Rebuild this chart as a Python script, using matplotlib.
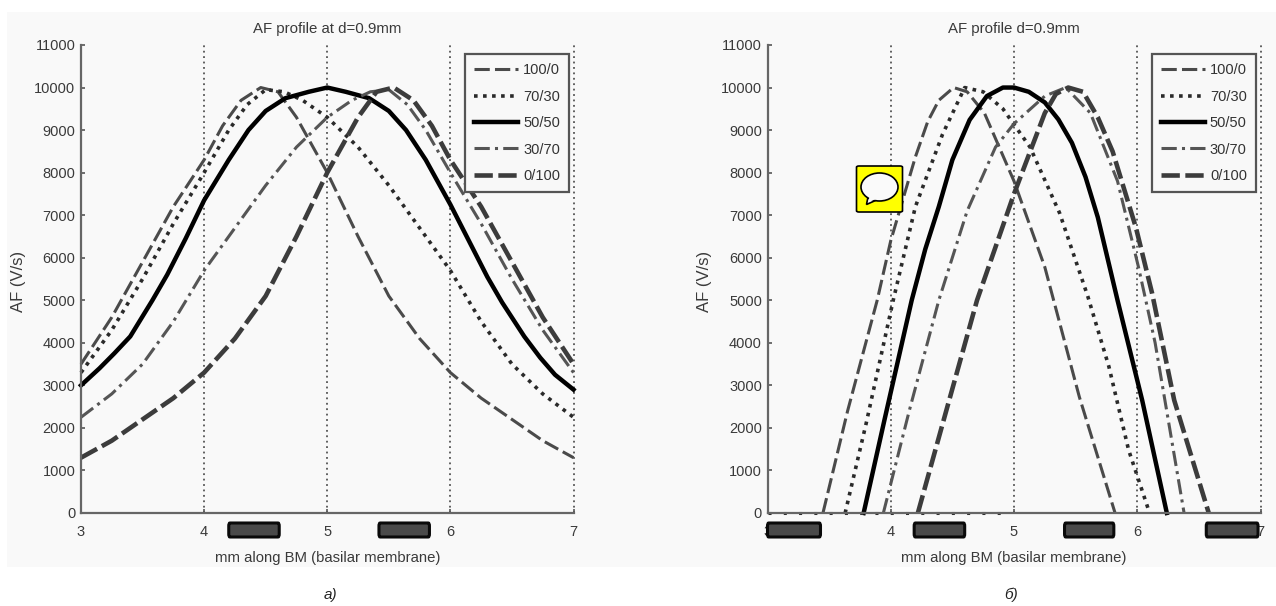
import matplotlib
matplotlib.use("Agg")
import matplotlib.pyplot as plt
from matplotlib.patches import FancyBboxPatch, Rectangle, Ellipse, Polygon
from matplotlib.transforms import blended_transform_factory

plt.rcParams['font.family'] = ['Liberation Sans', 'DejaVu Sans']

W, H = 1276, 606

labels = ["100/0", "70/30", "50/50", "30/70", "0/100"]
xticks = [3, 4, 5, 6, 7]
yticks = list(range(0, 12000, 1000))

# panel a
a_x_100 = [3, 3.25, 3.5, 3.75, 4, 4.15, 4.3, 4.46, 4.6, 4.75, 5, 5.25, 5.5, 5.75, 6, 6.25, 6.5, 6.75, 7]
a_y_100 = [3500, 4600, 5900, 7200, 8300, 9100, 9700, 10000, 9900, 9300, 8000, 6500, 5100, 4100, 3300, 2700, 2200, 1700, 1300]
a_x_70 = [3, 3.25, 3.5, 3.75, 4, 4.2, 4.35, 4.5, 4.65, 4.8, 5, 5.25, 5.5, 5.75, 6, 6.25, 6.5, 6.75, 7]
a_y_70 = [3300, 4300, 5500, 6800, 8000, 9000, 9600, 9950, 9900, 9700, 9300, 8600, 7700, 6700, 5700, 4500, 3500, 2800, 2250]
a_x_50 = [3, 3.15, 3.27, 3.4, 3.58, 3.7, 3.85, 4, 4.2, 4.36, 4.5, 4.66, 4.85, 5, 5.15, 5.34, 5.5, 5.64, 5.8, 6, 6.15, 6.3, 6.42, 6.6, 6.73, 6.85, 7]
a_y_50 = [3000, 3400, 3750, 4150, 5000, 5600, 6450, 7350, 8300, 9000, 9450, 9750, 9900, 10000, 9900, 9750, 9450, 9000, 8300, 7250, 6400, 5550, 4950, 4150, 3650, 3250, 2900]
a_x_30 = [3, 3.25, 3.5, 3.75, 4, 4.25, 4.5, 4.75, 5, 5.2, 5.35, 5.5, 5.65, 5.8, 6, 6.25, 6.5, 6.75, 7]
a_y_30 = [2250, 2800, 3500, 4500, 5700, 6700, 7700, 8600, 9300, 9700, 9900, 9950, 9600, 9000, 8000, 6800, 5500, 4300, 3300]
a_x_0 = [3, 3.25, 3.5, 3.75, 4, 4.25, 4.5, 4.75, 5, 5.25, 5.4, 5.54, 5.7, 5.85, 6, 6.25, 6.5, 6.75, 7]
a_y_0 = [1300, 1700, 2200, 2700, 3300, 4100, 5100, 6500, 8000, 9300, 9900, 10000, 9700, 9100, 8300, 7200, 5900, 4600, 3500]

# panel b
b_x_100 = [3.45, 3.65, 3.89, 4, 4.2, 4.3, 4.39, 4.51, 4.62, 4.76, 5, 5.25, 5.53, 5.82]
b_y_100 = [0, 2400, 5000, 6400, 8370, 9200, 9700, 10000, 9900, 9400, 7800, 5780, 2730, 0]
b_x_70 = [3.63, 3.8, 4.02, 4.2, 4.42, 4.6, 4.75, 4.91, 5.13, 5.37, 5.6, 5.77, 5.93, 6.1]
b_y_70 = [0, 2100, 5000, 7200, 8900, 10000, 9900, 9500, 8600, 7050, 5080, 3440, 1480, 0]
b_x_50 = [3.78, 3.95, 4.17, 4.28, 4.39, 4.5, 4.64, 4.78, 4.91, 5, 5.12, 5.25, 5.36, 5.47, 5.58, 5.68, 5.84, 6.04, 6.24]
b_y_50 = [0, 2200, 5000, 6200, 7200, 8300, 9240, 9800, 10000, 10000, 9900, 9650, 9250, 8700, 7900, 6950, 5000, 2650, 0]
b_x_30 = [3.94, 4.15, 4.39, 4.62, 4.85, 5, 5.25, 5.42, 5.62, 5.84, 6.01, 6.145, 6.38]
b_y_30 = [0, 2400, 5000, 7100, 8600, 9150, 9800, 10000, 9400, 7800, 5780, 4000, 0]
b_x_0 = [4.22, 4.45, 4.7, 5, 5.25, 5.34, 5.44, 5.56, 5.68, 5.8, 5.99, 6.12, 6.3, 6.58]
b_y_0 = [0, 2400, 5000, 7500, 9400, 9850, 10000, 9900, 9300, 8500, 6700, 5170, 2650, 0]
# dots lying on the axis in panel b
b_x_floor = [3, 4.9]
b_y_floor = [0, 0]

a_spans = [(4.2, 4.61), (5.42, 5.83)]
b_spans = [(3.0, 3.43), (4.19, 4.6), (5.41, 5.81), (6.56, 6.98)]

styles = [
    dict(color='#4a4a4a', lw=2.2, ls=(0, (5, 1.7))),
    dict(color='#2a2a2a', lw=2.6, ls=(0, (1, 1.5))),
    dict(color='#000000', lw=3.2, ls='-'),
    dict(color='#555555', lw=2.2, ls=(0, (5, 1.7, 1, 1.7))),
    dict(color='#3c3c3c', lw=3.3, ls=(0, (4, 1.2))),
]


def draw_panel(rect, series, spans, title, caption, caption_x):
    ax = fig.add_axes([rect[0] / W, 1 - rect[3] / H, (rect[2] - rect[0]) / W, (rect[3] - rect[1]) / H])
    ax.patch.set_alpha(0)
    for (xs, ys), name, st in zip(series, labels, styles):
        ax.plot(xs, ys, label=name, clip_on=False, **st)
    ax.set_xlim(3, 7)
    ax.set_ylim(0, 11000)
    ax.set_xticks(xticks)
    ax.set_yticks(yticks)
    ax.grid(True, axis='x', color='#555555', ls=(0, (1, 2)), lw=1.3, clip_on=False)
    ax.tick_params(direction='in', length=3, width=1.2, color='#555555', labelcolor='#3a3a3a', labelsize=10.5, pad=4)
    ax.tick_params(axis='x', pad=9)
    for s in ['top', 'right']:
        ax.spines[s].set_visible(False)
    for s in ['left', 'bottom']:
        ax.spines[s].set_color('#666666')
        ax.spines[s].set_linewidth(1.6)
    ax.set_title(title, fontsize=10.8, color='#3a3a3a', pad=9)
    ax.set_xlabel("mm along BM (basilar membrane)", fontsize=10.7, color='#3a3a3a', labelpad=8)
    ax.set_ylabel("AF (V/s)", fontsize=12, color='#3a3a3a')
    ax.yaxis.set_label_coords(-0.112, 0.494)
    leg = ax.legend(loc='upper left', bbox_to_anchor=(0.779, 0.981), borderaxespad=0, fontsize=10.5,
                    frameon=True, fancybox=False, framealpha=1, facecolor='#f8f8f8', edgecolor='#555555',
                    handlelength=3.0, handletextpad=0.35, labelspacing=0.85, borderpad=0.65)
    leg.get_frame().set_linewidth(1.6)
    for t in leg.get_texts():
        t.set_color('#333333')
    # redaction bars under the axis
    tr = blended_transform_factory(ax.transData, fig.transFigure)
    for x0, x1 in spans:
        ax.add_patch(FancyBboxPatch((x0, 1 - 537 / H), x1 - x0, 14 / H, transform=tr,
                                    boxstyle="round,pad=0,rounding_size=0.01", mutation_aspect=0.5,
                                    fc='#4a4a4a', ec='#0a0a0a', lw=2.2, clip_on=False, zorder=6))
    fig.text(caption_x / W, 1 - 595 / H, caption, fontsize=11, style='italic', color='#222222',
             ha='center', va='center')
    return ax


fig = plt.figure(figsize=(W / 100, H / 100), dpi=100, facecolor='white')
# washed grey scan background
fig.add_artist(Rectangle((7 / W, 1 - 567 / H), (W - 7) / W, 555 / H, transform=fig.transFigure,
                         fc='#f9f9f9', ec='none', zorder=-5))

draw_panel((81, 45, 573.5, 513),
           [(a_x_100, a_y_100), (a_x_70, a_y_70), (a_x_50, a_y_50), (a_x_30, a_y_30), (a_x_0, a_y_0)],
           a_spans, "AF profile at d=0.9mm", "а)", 330)
ax_b = draw_panel((767.5, 45, 1260.5, 513),
                  [(b_x_100, b_y_100), (b_x_70, b_y_70), (b_x_50, b_y_50), (b_x_30, b_y_30), (b_x_0, b_y_0)],
                  b_spans, "AF profile d=0.9mm", "б)", 1011)
ax_b.plot(b_x_floor, b_y_floor, color='#2a2a2a', lw=2.2, ls=(0, (1, 4)), clip_on=False)

# yellow comment icon
fig.add_artist(FancyBboxPatch((856.5 / W, 1 - 212 / H), 46 / W, 46 / H, transform=fig.transFigure,
                              boxstyle="round,pad=0,rounding_size=0.002", fc='#ffff00', ec='black', lw=1.2, zorder=10))
fig.add_artist(Polygon([(869 / W, 1 - 192 / H), (866.5 / W, 1 - 204.5 / H), (881 / W, 1 - 198 / H)],
                       transform=fig.transFigure, fc='#fafafa', ec='black', lw=1.2, zorder=11))
fig.add_artist(Ellipse((879.5 / W, 1 - 187 / H), 37 / W, 28 / H, transform=fig.transFigure,
                       fc='#fafafa', ec='black', lw=1.2, zorder=12))
fig.add_artist(Polygon([(870 / W, 1 - 193 / H), (868.5 / W, 1 - 202 / H), (880 / W, 1 - 197.5 / H)],
                       transform=fig.transFigure, fc='#fafafa', ec='none', zorder=13))

fig.savefig("out.png", dpi=100)
